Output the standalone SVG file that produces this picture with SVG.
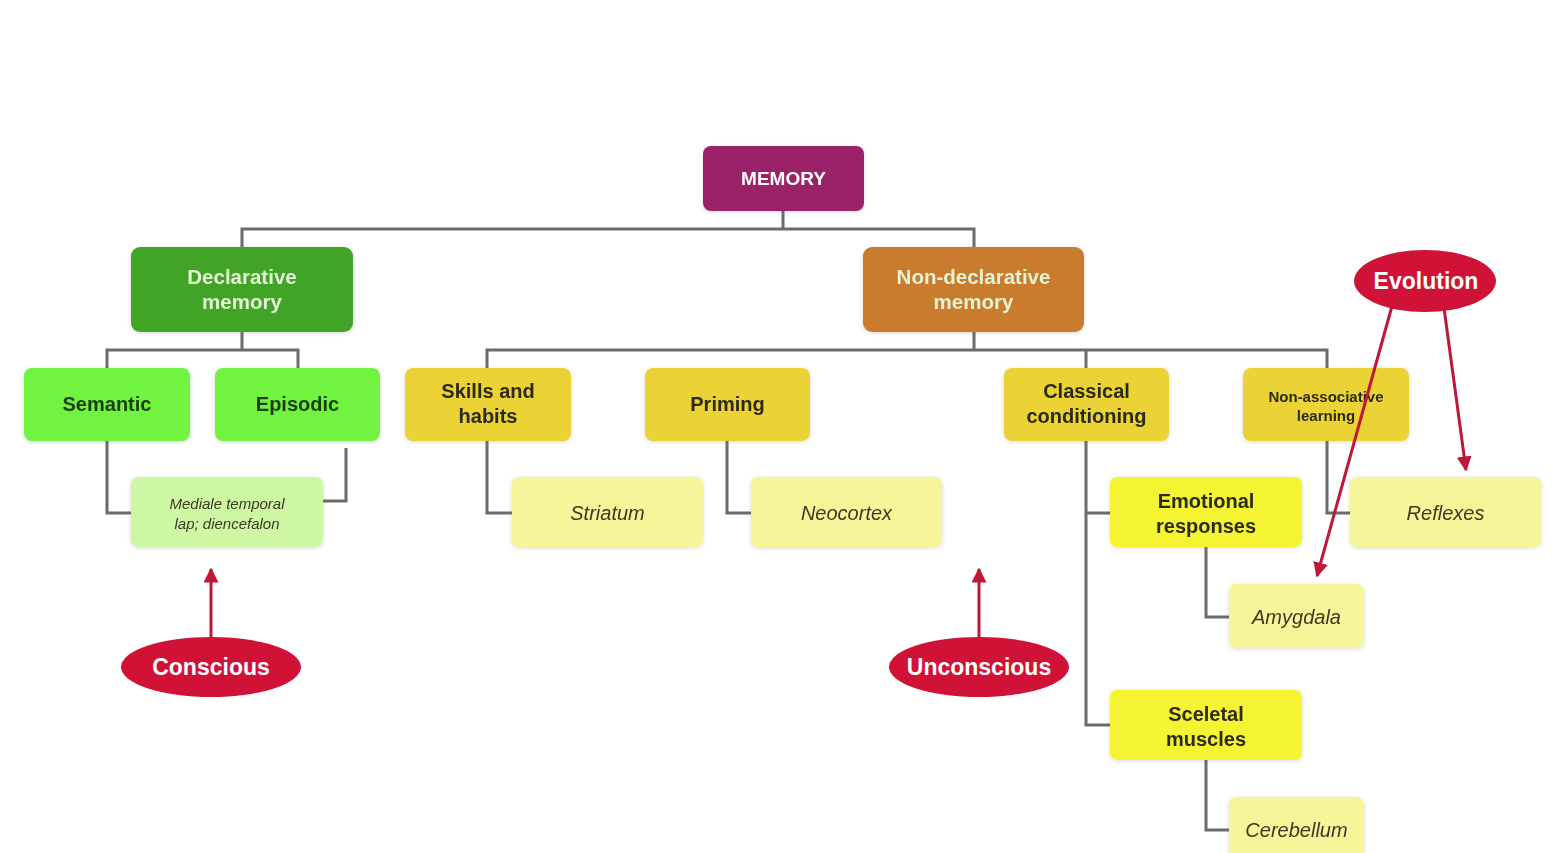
<svg xmlns="http://www.w3.org/2000/svg" width="1559" height="853" viewBox="0 0 1559 853">
<style>
  .box { stroke: none; }
  .conn { fill: none; stroke: #6b6b6b; stroke-width: 3; }
  .red { fill: none; stroke: #c0163a; stroke-width: 3; }
  .t { font-family: "Liberation Sans", Arial, sans-serif; font-weight: bold; text-anchor: middle; }
  .ti { font-family: "Liberation Sans", Arial, sans-serif; font-style: italic; text-anchor: middle; fill: #3a3a20; }
  .dk { fill: #2c2a12; }
  .dg { fill: #1c3d0c; }
  .wh { fill: #ffffff; }
  .lt { fill: #e3f5d6; }
  .lemon { fill: #f6f59a; }
</style>
<defs>
  <marker id="ah" viewBox="0 0 10 10" refX="9" refY="5" markerWidth="5" markerHeight="5" orient="auto">
    <path d="M0,0 L10,5 L0,10 z" fill="#c0163a"/>
  </marker>
  <filter id="soft" x="-10%" y="-10%" width="120%" height="130%">
    <feGaussianBlur in="SourceAlpha" stdDeviation="2"/>
    <feOffset dy="1" result="b"/>
    <feFlood flood-color="#000" flood-opacity="0.15"/>
    <feComposite in2="b" operator="in"/>
    <feMerge><feMergeNode/><feMergeNode in="SourceGraphic"/></feMerge>
  </filter>
</defs>
<rect width="1559" height="853" fill="#ffffff"/>

<g id="memory" filter="url(#soft)">
  <rect class="box" x="703" y="146" width="161" height="65" rx="8" fill="#9a2167"/>
  <text class="t wh" x="783.5" y="185" font-size="19">MEMORY</text>
</g>

<g id="declarative" filter="url(#soft)">
  <rect class="box" x="131" y="247" width="222" height="85" rx="9" fill="#43a427"/>
  <text class="t lt" x="242" y="284" font-size="20.5">Declarative</text>
  <text class="t lt" x="242" y="309" font-size="20.5">memory</text>
</g>

<g id="nondeclarative" filter="url(#soft)">
  <rect class="box" x="863" y="247" width="221" height="85" rx="9" fill="#c97b2d"/>
  <text class="t lt" x="973.5" y="284" font-size="20.5">Non-declarative</text>
  <text class="t lt" x="973.5" y="309" font-size="20.5">memory</text>
</g>

<g id="semantic" filter="url(#soft)">
  <rect class="box" x="24" y="368" width="166" height="73" rx="8" fill="#6ff43f"/>
  <text class="t dg" x="107" y="411" font-size="20">Semantic</text>
</g>

<g id="episodic" filter="url(#soft)">
  <rect class="box" x="215" y="368" width="165" height="73" rx="8" fill="#6ff43f"/>
  <text class="t dg" x="297.5" y="411" font-size="20">Episodic</text>
</g>

<g id="mediale" filter="url(#soft)">
  <rect class="box" x="131" y="477" width="192" height="70" rx="7" fill="#cdf7a3"/>
  <text class="ti" x="227" y="509" font-size="15">Mediale temporal</text>
  <text class="ti" x="227" y="529" font-size="15">lap; diencefalon</text>
</g>

<g id="skills" filter="url(#soft)">
  <rect class="box" x="405" y="368" width="166" height="73" rx="8" fill="#ebd236"/>
  <text class="t dk" x="488" y="398" font-size="20">Skills and</text>
  <text class="t dk" x="488" y="423" font-size="20">habits</text>
</g>

<g id="priming" filter="url(#soft)">
  <rect class="box" x="645" y="368" width="165" height="73" rx="8" fill="#ebd236"/>
  <text class="t dk" x="727.5" y="411" font-size="20">Priming</text>
</g>

<g id="classical" filter="url(#soft)">
  <rect class="box" x="1004" y="368" width="165" height="73" rx="8" fill="#ebd236"/>
  <text class="t dk" x="1086.5" y="398" font-size="20">Classical</text>
  <text class="t dk" x="1086.5" y="423" font-size="20">conditioning</text>
</g>

<g id="nonassociative" filter="url(#soft)">
  <rect class="box" x="1243" y="368" width="166" height="73" rx="8" fill="#ebd236"/>
  <text class="t dk" x="1326" y="402" font-size="15">Non-associative</text>
  <text class="t dk" x="1326" y="421" font-size="15">learning</text>
</g>

<g id="striatum" filter="url(#soft)">
  <rect class="box lemon" x="512" y="477" width="191" height="70" rx="7"/>
  <text class="ti" x="607.5" y="520" font-size="20">Striatum</text>
</g>

<g id="neocortex" filter="url(#soft)">
  <rect class="box lemon" x="751" y="477" width="191" height="70" rx="7"/>
  <text class="ti" x="846.5" y="520" font-size="20">Neocortex</text>
</g>

<g id="emotional" filter="url(#soft)">
  <rect class="box" x="1110" y="477" width="192" height="70" rx="7" fill="#f5f431"/>
  <text class="t dk" x="1206" y="508" font-size="20">Emotional</text>
  <text class="t dk" x="1206" y="533" font-size="20">responses</text>
</g>

<g id="reflexes" filter="url(#soft)">
  <rect class="box lemon" x="1350" y="477" width="191" height="70" rx="7"/>
  <text class="ti" x="1445.5" y="520" font-size="20">Reflexes</text>
</g>

<g id="amygdala" filter="url(#soft)">
  <rect class="box lemon" x="1229" y="584" width="135" height="64" rx="7"/>
  <text class="ti" x="1296.5" y="624" font-size="20">Amygdala</text>
</g>

<g id="sceletal" filter="url(#soft)">
  <rect class="box" x="1110" y="690" width="192" height="70" rx="7" fill="#f5f431"/>
  <text class="t dk" x="1206" y="721" font-size="20">Sceletal</text>
  <text class="t dk" x="1206" y="746" font-size="20">muscles</text>
</g>

<g id="cerebellum" filter="url(#soft)">
  <rect class="box lemon" x="1229" y="797" width="135" height="64" rx="7"/>
  <text class="ti" x="1296.5" y="837" font-size="20">Cerebellum</text>
</g>

<g id="evolution">
  <ellipse cx="1425" cy="281" rx="71" ry="31" fill="#cf1236"/>
  <text class="t wh" x="1426" y="289" font-size="23">Evolution</text>
</g>

<g id="conscious">
  <ellipse cx="211" cy="667" rx="90" ry="30" fill="#cf1236"/>
  <text class="t wh" x="211" y="675" font-size="23">Conscious</text>
</g>

<g id="unconscious">
  <ellipse cx="979" cy="667" rx="90" ry="30" fill="#cf1236"/>
  <text class="t wh" x="979" y="675" font-size="23">Unconscious</text>
</g>

<g id="connectors">
  <path class="conn" d="M783,211 V229 M242,247 V229 H974 V247"/>
  <path class="conn" d="M242,332 V350 M107,368 V350 H298 V368"/>
  <path class="conn" d="M974,332 V350 M487,368 V350 H1327 V368 M1086,350 V368"/>
  <path class="conn" d="M107,441 V513 H131"/>
  <path class="conn" d="M346,448 V501 H323"/>
  <path class="conn" d="M487,441 V513 H512"/>
  <path class="conn" d="M727,441 V513 H751"/>
  <path class="conn" d="M1086,441 V725 H1110 M1086,513 H1110"/>
  <path class="conn" d="M1206,547 V617 H1229"/>
  <path class="conn" d="M1206,760 V830 H1229"/>
  <path class="conn" d="M1327,441 V513 H1350"/>
  <path class="red" d="M211,637 V569" marker-end="url(#ah)"/>
  <path class="red" d="M979,637 V569" marker-end="url(#ah)"/>
  <path class="red" d="M1392,306 L1317,576" marker-end="url(#ah)"/>
  <path class="red" d="M1444,308 L1466,470" marker-end="url(#ah)"/>
</g>
</svg>
